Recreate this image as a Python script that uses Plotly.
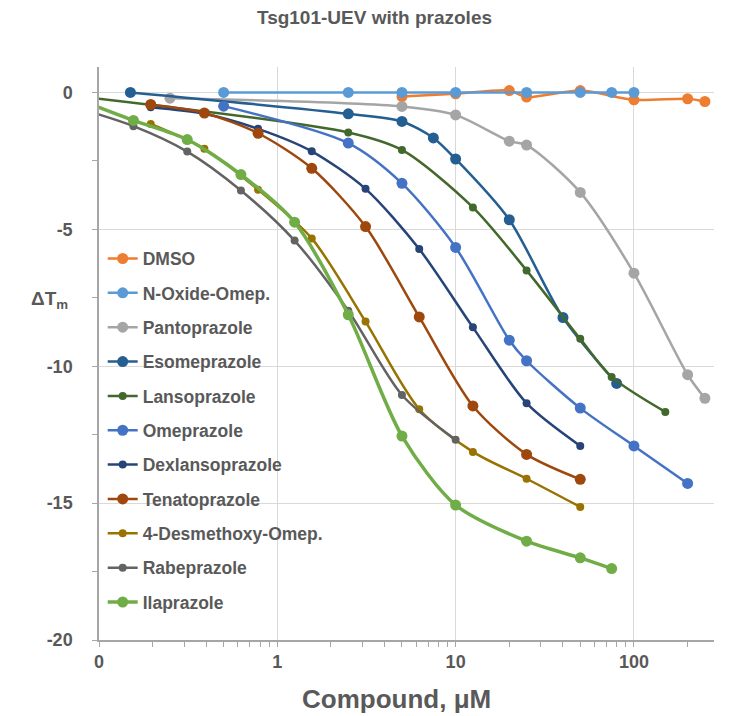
import plotly.graph_objects as go

# ---- data ----
series_names = ["DMSO", "N-Oxide-Omep.", "Pantoprazole", "Esomeprazole", "Lansoprazole",
                "Omeprazole", "Dexlansoprazole", "Tenatoprazole", "4-Desmethoxy-Omep.",
                "Rabeprazole", "Ilaprazole"]

dmso_x = [5, 10, 20, 25, 50, 100, 200, 250]
dmso_y = [-0.15, -0.05, 0.07, -0.17, 0.07, -0.27, -0.23, -0.33]

noxide_x = [0.5, 2.5, 5, 10, 25, 50, 75, 100]
noxide_y = [0, 0, 0, 0, 0, 0, 0, 0]

panto_x = [0.25, 5, 10, 20, 25, 50, 100, 200, 250]
panto_y = [-0.21, -0.51, -0.82, -1.78, -1.92, -3.65, -6.6, -10.31, -11.17]

esome_x = [0.15, 2.5, 5, 7.5, 10, 20, 40, 80]
esome_y = [0, -0.78, -1.06, -1.66, -2.43, -4.65, -8.22, -10.63]

lanso_x = [0.05, 2.5, 5, 12.5, 25, 50, 75, 150]
lanso_y = [0, -1.46, -2.1, -4.2, -6.5, -9.0, -10.39, -11.67]

ome_x = [0.5, 2.5, 5, 10, 20, 25, 50, 100, 200]
ome_y = [-0.5, -1.85, -3.32, -5.66, -9.05, -9.8, -11.53, -12.91, -14.28]

dil_x = [0.195, 0.39, 0.78, 1.56, 3.125, 6.25, 12.5, 25, 50]
dexlanso_y = [-0.54, -0.78, -1.33, -2.15, -3.52, -5.72, -8.58, -11.35, -12.91]
tenato_y = [-0.44, -0.75, -1.49, -2.77, -4.9, -8.2, -11.45, -13.22, -14.13]
desmeth_y = [-1.15, -2.06, -3.55, -5.33, -8.37, -11.57, -13.13, -14.11, -15.14]

rabe_x = [0.078, 0.156, 0.3125, 0.625, 1.25, 2.5, 5, 10]
rabe_y = [-0.59, -1.23, -2.16, -3.58, -5.41, -7.97, -11.05, -12.69]

ilap_x = [0.078, 0.156, 0.3125, 0.625, 1.25, 2.5, 5, 10, 25, 50, 75]
ilap_y = [-0.27, -1.02, -1.72, -3.0, -4.74, -8.12, -12.55, -15.07, -16.39, -17.0, -17.39]

x_tick_vals = [0.1, 1, 10, 100]
x_tick_text = ["0", "1", "10", "100"]
y_tick_vals = [0, -5, -10, -15, -20]
y_tick_text = ["0", "-5", "-10", "-15", "-20"]

colors = ["#ED7D31", "#5B9BD5", "#A5A5A5", "#255E91", "#43682B", "#4472C4",
          "#264478", "#9E480E", "#997300", "#636363", "#70AD47"]
xs = [dmso_x, noxide_x, panto_x, esome_x, lanso_x, ome_x, dil_x, dil_x, dil_x, rabe_x, ilap_x]
ys = [dmso_y, noxide_y, panto_y, esome_y, lanso_y, ome_y, dexlanso_y, tenato_y, desmeth_y, rabe_y, ilap_y]
msizes = [11, 11, 11, 11, 8, 11, 8, 11, 8, 8, 11]
lwidths = [2.5, 2.5, 2.5, 2.5, 2.5, 2.5, 2.5, 2.5, 2.5, 2.5, 3.5]

fig = go.Figure()
for i, name in enumerate(series_names):
    fig.add_trace(go.Scatter(
        x=xs[i], y=ys[i], name="<b>%s</b>" % name, mode="lines+markers",
        line=dict(color=colors[i], width=lwidths[i], shape="spline", smoothing=0.8),
        marker=dict(color=colors[i], size=msizes[i]),
        legendgroup=name, cliponaxis=True,
    ))

grey = "#595959"
font_fam = "Liberation Sans, Arial, sans-serif"
tick_font = dict(size=18, color=grey, family=font_fam)

minor_x = [m * 10 ** e for e in (-1, 0, 1, 2) for m in range(2, 10) if m * 10 ** e < 290]

fig.update_layout(
    width=733, height=716,
    margin=dict(l=91, r=27, t=59, b=84),
    plot_bgcolor="white", paper_bgcolor="white",
    font=dict(family=font_fam, color=grey),
    title=dict(text="<b>Tsg101-UEV with prazoles</b>", x=0.5, xref="container",
               y=1 - 9 / 716, yref="container", yanchor="middle",
               font=dict(size=19, color=grey, family=font_fam)),
    showlegend=True,
    legend=dict(x=0.006, xanchor="left", y=0.697, yanchor="top",
                bgcolor="rgba(0,0,0,0)", font=dict(size=17.5, color=grey, family=font_fam),
                tracegroupgap=8.6, itemwidth=30),
    xaxis=dict(type="log", range=[-1, 2.449], tickmode="array", tickvals=x_tick_vals,
               ticktext=["<b>%s</b>" % t for t in x_tick_text],
               showgrid=True, gridcolor="#D9D9D9", gridwidth=1,
               showline=True, linecolor="#A6A6A6", linewidth=1.5,
               ticks="outside", ticklen=5, tickcolor="#A6A6A6",
               tickfont=tick_font, ticklabelstandoff=0,
               minor=dict(tickmode="array", tickvals=minor_x, ticks="outside", ticklen=5,
                          tickcolor="#A6A6A6", showgrid=False),
               zeroline=False),
    yaxis=dict(range=[-20, 0.93], tickmode="array", tickvals=y_tick_vals,
               ticktext=["<b>%s</b>" % t for t in y_tick_text],
               showgrid=True, gridcolor="#D9D9D9", gridwidth=1,
               showline=True, linecolor="#A6A6A6", linewidth=1.5,
               ticks="outside", ticklen=5, tickcolor="#A6A6A6",
               tickfont=tick_font, ticklabelstandoff=16,
               minor=dict(tickmode="array", tickvals=[-2.5, -7.5, -12.5, -17.5], ticks="outside",
                          ticklen=5, tickcolor="#A6A6A6", showgrid=False),
               zeroline=False),
)

fig.add_annotation(text="<b>ΔT<sub>m</sub></b>", xref="paper", yref="paper",
                   x=(42 - 91) / 615, y=(632 - 292) / 573, xanchor="center", yanchor="middle",
                   showarrow=False, font=dict(size=19, color=grey, family=font_fam))
fig.add_annotation(text="<b>Compound, μM</b>", xref="paper", yref="paper",
                   x=(388.5 - 91) / 615, y=(632 - 691) / 573, xanchor="center", yanchor="middle",
                   showarrow=False, font=dict(size=26, color=grey, family=font_fam))
fig.add_shape(type="line", xref="paper", yref="paper", x0=1.0358, x1=1.0358, y0=-0.147, y1=1.103,
              line=dict(color="#D9D9D9", width=1))

fig.write_html("out.html")
